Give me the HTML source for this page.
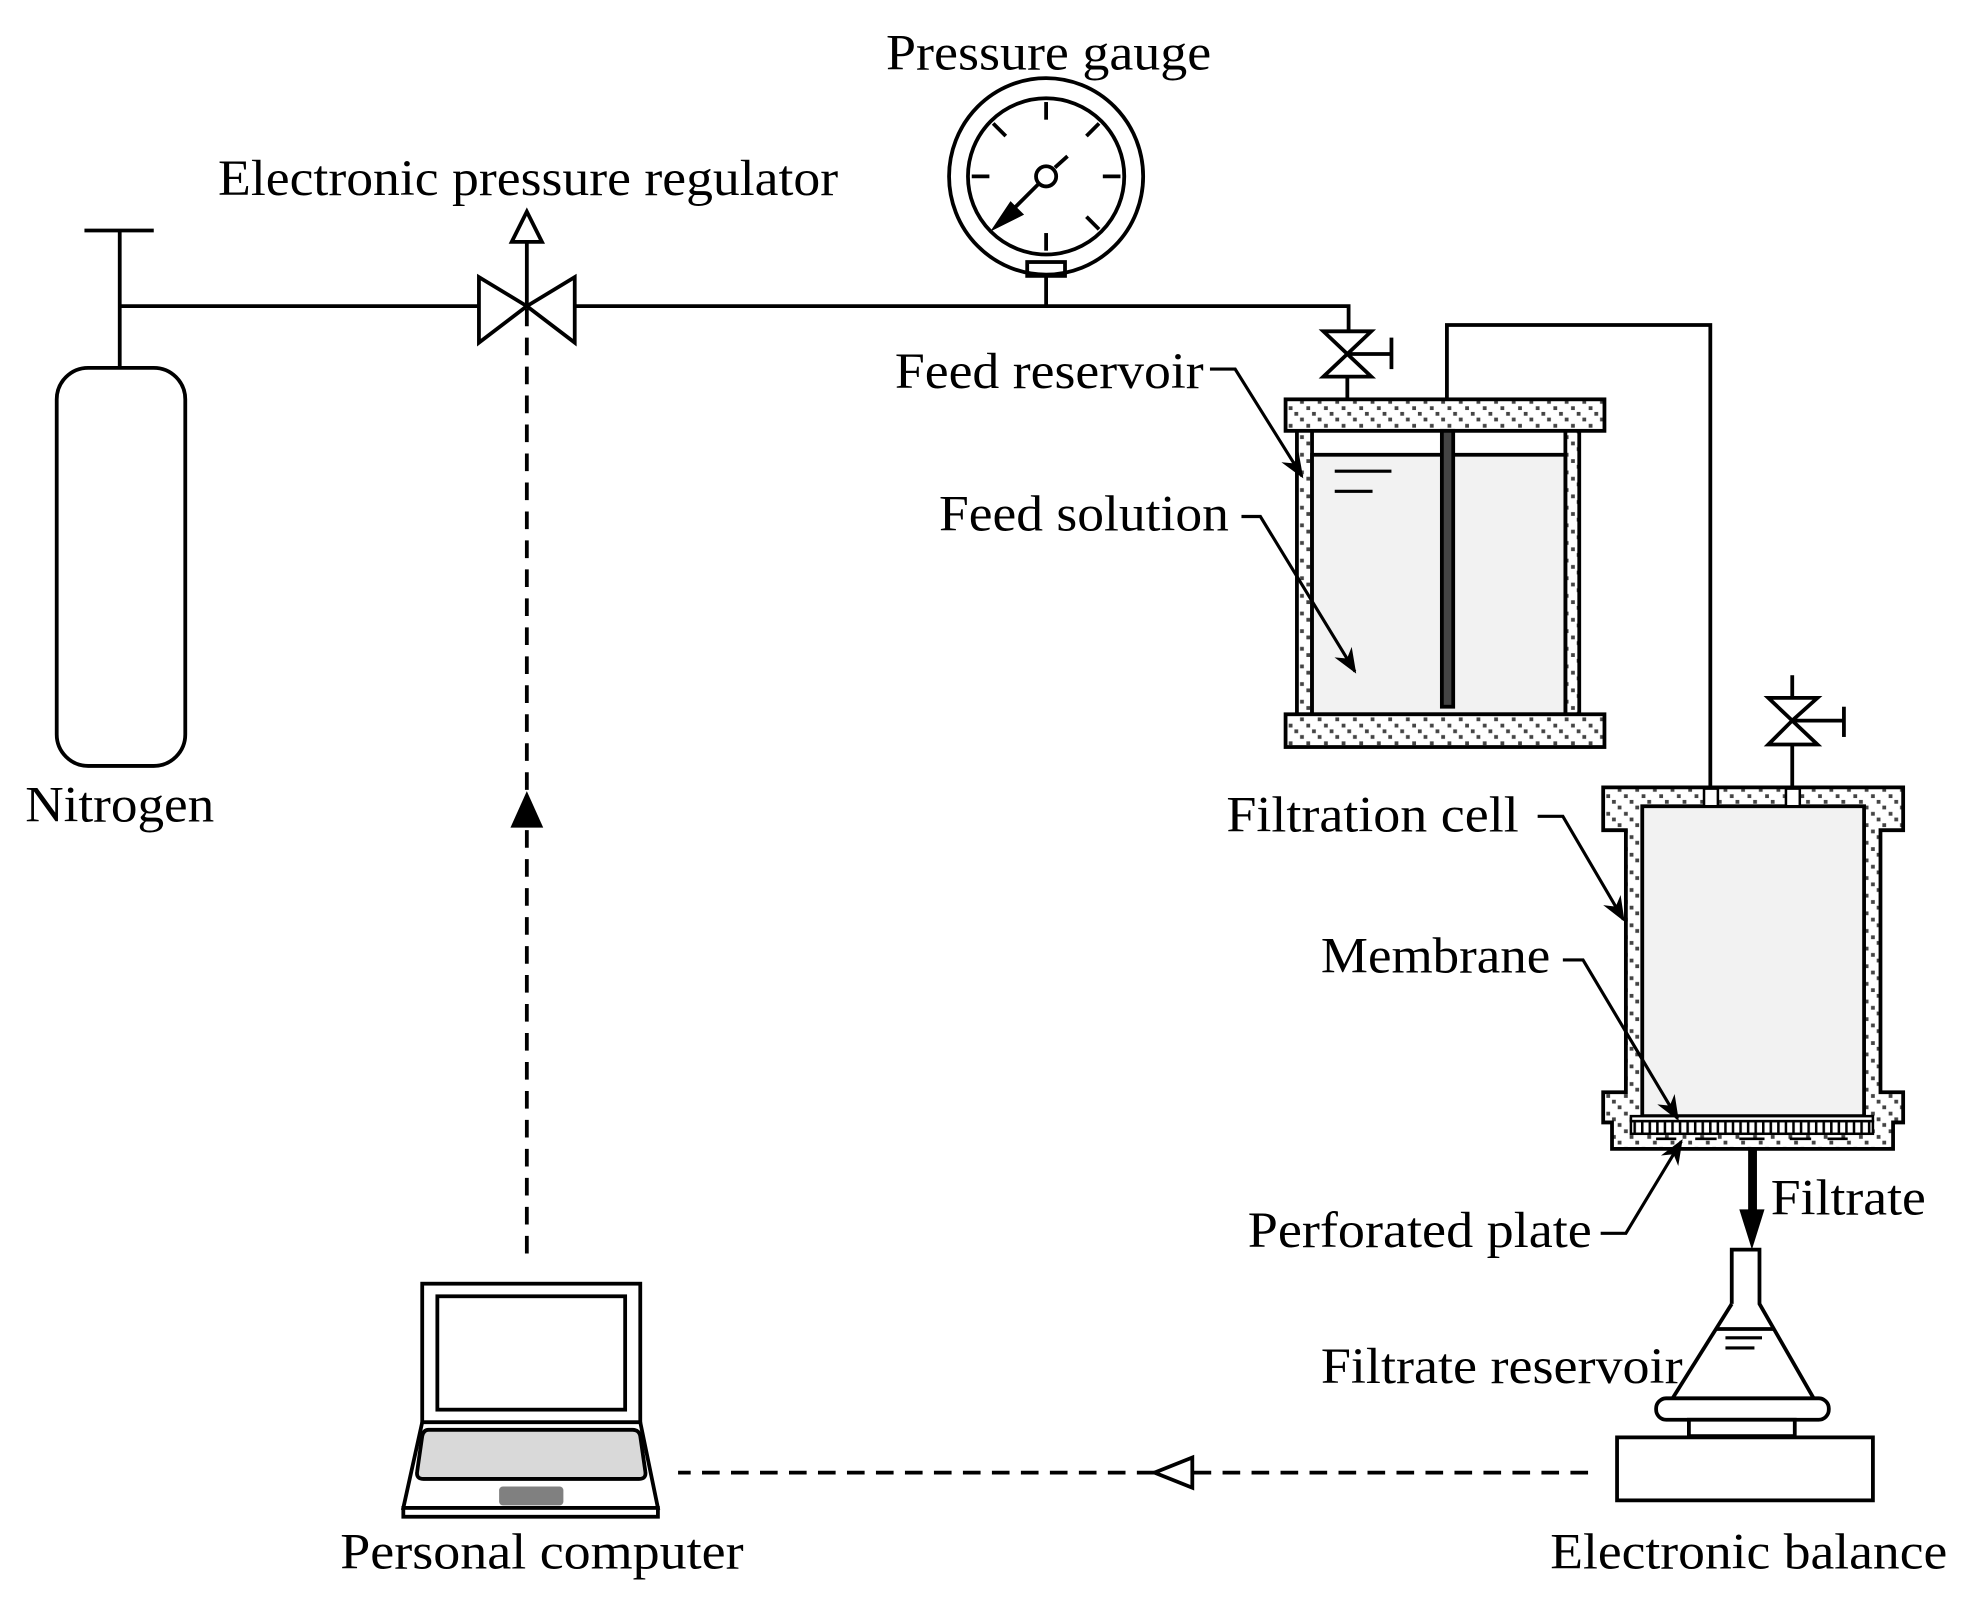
<!DOCTYPE html>
<html><head><meta charset="utf-8"><style>
html,body{margin:0;padding:0;background:#fff;}
svg{display:block;}
text{font-family:"Liberation Serif",serif;font-size:40px;fill:#000;}
</style></head><body>
<svg width="1975" height="1615" viewBox="0 0 1567 1282" preserveAspectRatio="none" xmlns="http://www.w3.org/2000/svg">
<defs>
<pattern id="h" patternUnits="userSpaceOnUse" width="14" height="14">
<rect width="14" height="14" fill="#fff"/>
<rect x="0.5" y="0.5" width="3" height="3" fill="#444"/>
<rect x="5" y="5" width="3" height="3" fill="#444"/>
<rect x="9.5" y="9.5" width="3" height="3" fill="#444"/>
</pattern>
<pattern id="tk" patternUnits="userSpaceOnUse" width="6" height="10">
<rect width="6" height="10" fill="#fff"/>
<rect x="0" y="0" width="2" height="10" fill="#000"/>
</pattern>
<marker id="ah" viewBox="0 0 20 20" refX="18" refY="10" markerWidth="20" markerHeight="20" markerUnits="userSpaceOnUse" orient="auto">
<path d="M0,2 L20,10 L0,18 L6,10 Z" fill="#000"/>
</marker>
</defs>
<g fill="none" stroke="#000" stroke-width="3">
<rect x="45" y="292" width="102" height="316" rx="25"/>
<line x1="95" y1="183" x2="95" y2="292"/>
<line x1="67" y1="183" x2="122" y2="183"/>
<polyline points="95,243 380,243"/>
<polyline points="456,243 1070,243 1070,268"/>
<polygon points="380,220 418,243 380,272" fill="#fff"/>
<polygon points="456,220 418,243 456,272" fill="#fff"/>
<line x1="418" y1="243" x2="418" y2="192"/>
<polygon points="418,168 406,192 430,192" fill="#fff"/>
<line x1="418" y1="245" x2="418" y2="1000" stroke-dasharray="14 9"/>
<ellipse cx="830" cy="140" rx="77" ry="78"/>
<circle cx="830" cy="140" r="62"/>
<rect x="815" y="208" width="30" height="11"/>
<line x1="830" y1="219" x2="830" y2="243"/>
<line x1="830" y1="81" x2="830" y2="95"/>
<line x1="830" y1="185" x2="830" y2="199"/>
<line x1="771" y1="140" x2="785" y2="140"/>
<line x1="875" y1="140" x2="889" y2="140"/>
<line x1="788" y1="98" x2="798" y2="108"/>
<line x1="872" y1="98" x2="862" y2="108"/>
<line x1="872" y1="182" x2="862" y2="172"/>
<line x1="847" y1="124" x2="837" y2="133"/>
<line x1="824" y1="146" x2="792" y2="178"/>
<polygon points="790,180 802,162 810,170" fill="#000"/>
<circle cx="830" cy="140" r="8" fill="#fff"/>
<polygon points="1050,263 1088,263 1069,281" fill="#fff"/>
<polygon points="1050,299 1088,299 1069,281" fill="#fff"/>
<line x1="1069" y1="281" x2="1104" y2="281"/>
<line x1="1104" y1="268" x2="1104" y2="293"/>
<line x1="1069" y1="299" x2="1069" y2="317"/>
<rect x="1029" y="341" width="224" height="226" fill="url(#h)"/>
<rect x="1041" y="341" width="201" height="226" fill="#fff"/>
<rect x="1041" y="361" width="201" height="206" fill="#f2f2f2"/>
<line x1="1041" y1="361" x2="1242" y2="361" stroke-width="2"/>
<rect x="1020" y="317" width="253" height="25" fill="url(#h)"/>
<rect x="1020" y="567" width="253" height="26" fill="url(#h)"/>
<rect x="1144" y="342" width="9" height="219" fill="#444"/>
<line x1="1059" y1="374" x2="1104" y2="374" stroke-width="2.5"/>
<line x1="1059" y1="390" x2="1089" y2="390" stroke-width="2.5"/>
<polyline points="1148,317 1148,258 1357,258 1357,625"/>
<polygon points="1272,625 1510,625 1510,659 1492,659 1492,867 1510,867 1510,891 1502,891 1502,912 1279,912 1279,891 1272,891 1272,867 1290,867 1290,659 1272,659" fill="url(#h)"/>
<rect x="1303" y="640" width="176" height="246" fill="#f2f2f2"/>
<rect x="1352" y="626" width="11" height="14" fill="#fff" stroke-width="2"/>
<rect x="1417" y="626" width="11" height="14" fill="#fff" stroke-width="2"/>
<rect x="1294" y="886" width="192" height="4" fill="#fff" stroke-width="2"/>
<rect x="1294" y="890" width="192" height="10" fill="url(#tk)" stroke-width="2"/>
<g stroke-width="2"><line x1="1314" y1="904" x2="1330" y2="904"/><line x1="1345" y1="904" x2="1362" y2="904"/><line x1="1380" y1="904" x2="1400" y2="904"/><line x1="1420" y1="904" x2="1437" y2="904"/><line x1="1450" y1="904" x2="1466" y2="904"/></g>
<line x1="1422" y1="536" x2="1422" y2="554"/>
<polygon points="1403,554 1442,554 1422,572" fill="#fff"/>
<polygon points="1403,591 1442,591 1422,572" fill="#fff"/>
<line x1="1422" y1="572" x2="1463" y2="572"/>
<line x1="1463" y1="561" x2="1463" y2="585"/>
<line x1="1422" y1="591" x2="1422" y2="625"/>
<rect x="1387" y="912" width="7" height="50" fill="#000" stroke="none"/>
<polygon points="1380,960 1400,960 1390,992" fill="#000" stroke="none"/>
<polyline points="1374,1035 1374,992 1396,992 1396,1035 1439,1110" fill="#fff"/>
<line x1="1374" y1="1035" x2="1327" y2="1110"/>
<line x1="1362" y1="1055" x2="1408" y2="1055"/>
<line x1="1369" y1="1062" x2="1398" y2="1062" stroke-width="2.5"/>
<line x1="1369" y1="1070" x2="1392" y2="1070" stroke-width="2.5"/>
<rect x="1314" y="1110" width="137" height="17" rx="8" fill="#fff"/>
<rect x="1340" y="1127" width="84" height="13" fill="#fff"/>
<rect x="1283" y="1141" width="203" height="50" fill="#fff"/>
<line x1="1260" y1="1169" x2="946" y2="1169" stroke-dasharray="14 9"/>
<polygon points="916,1169 946,1157 946,1181" fill="#fff"/>
<line x1="916" y1="1169" x2="538" y2="1169" stroke-dasharray="14 9"/>
<polygon points="418,628 405,657 431,657" fill="#000" stroke="none"/>
<rect x="335" y="1019" width="173" height="110" fill="#fff"/>
<rect x="347" y="1029" width="149" height="90" fill="#fff"/>
<polygon points="335,1129 508,1129 522,1197 320,1197" fill="#fff"/>
<rect x="320" y="1197" width="202" height="7" fill="#fff"/>
<path d="M340,1135 L502,1135 Q507,1135 508,1140 L512,1168 Q513,1174 507,1174 L336,1174 Q330,1174 331,1168 L335,1140 Q336,1135 340,1135 Z" fill="#d9d9d9"/>
<rect x="396" y="1180" width="51" height="15" rx="3" fill="#808080" stroke="none"/>
<g stroke-width="2.5">
<polyline points="960,293 980,293 1033,378" marker-end="url(#ah)"/>
<polyline points="985,410 1000,410 1075,533" marker-end="url(#ah)"/>
<polyline points="1220,648 1240,648 1288,730" marker-end="url(#ah)"/>
<polyline points="1240,762 1256,762 1331,888" marker-end="url(#ah)"/>
<polyline points="1270,979 1290,979 1334,906" marker-end="url(#ah)"/>
</g>
</g>
<text x="703" y="55" textLength="258" lengthAdjust="spacingAndGlyphs">Pressure gauge</text>
<text x="173" y="155" textLength="492" lengthAdjust="spacingAndGlyphs">Electronic pressure regulator</text>
<text x="20" y="652" textLength="150" lengthAdjust="spacingAndGlyphs">Nitrogen</text>
<text x="710" y="308" textLength="245" lengthAdjust="spacingAndGlyphs">Feed reservoir</text>
<text x="745" y="421" textLength="230" lengthAdjust="spacingAndGlyphs">Feed solution</text>
<text x="973" y="660" textLength="232" lengthAdjust="spacingAndGlyphs">Filtration cell</text>
<text x="1048" y="772" textLength="182" lengthAdjust="spacingAndGlyphs">Membrane</text>
<text x="1405" y="964" textLength="123" lengthAdjust="spacingAndGlyphs">Filtrate</text>
<text x="990" y="990" textLength="273" lengthAdjust="spacingAndGlyphs">Perforated plate</text>
<text x="1048" y="1098" textLength="287" lengthAdjust="spacingAndGlyphs">Filtrate reservoir</text>
<text x="270" y="1245" textLength="320" lengthAdjust="spacingAndGlyphs">Personal computer</text>
<text x="1230" y="1245" textLength="315" lengthAdjust="spacingAndGlyphs">Electronic balance</text>
</svg>
</body></html>
